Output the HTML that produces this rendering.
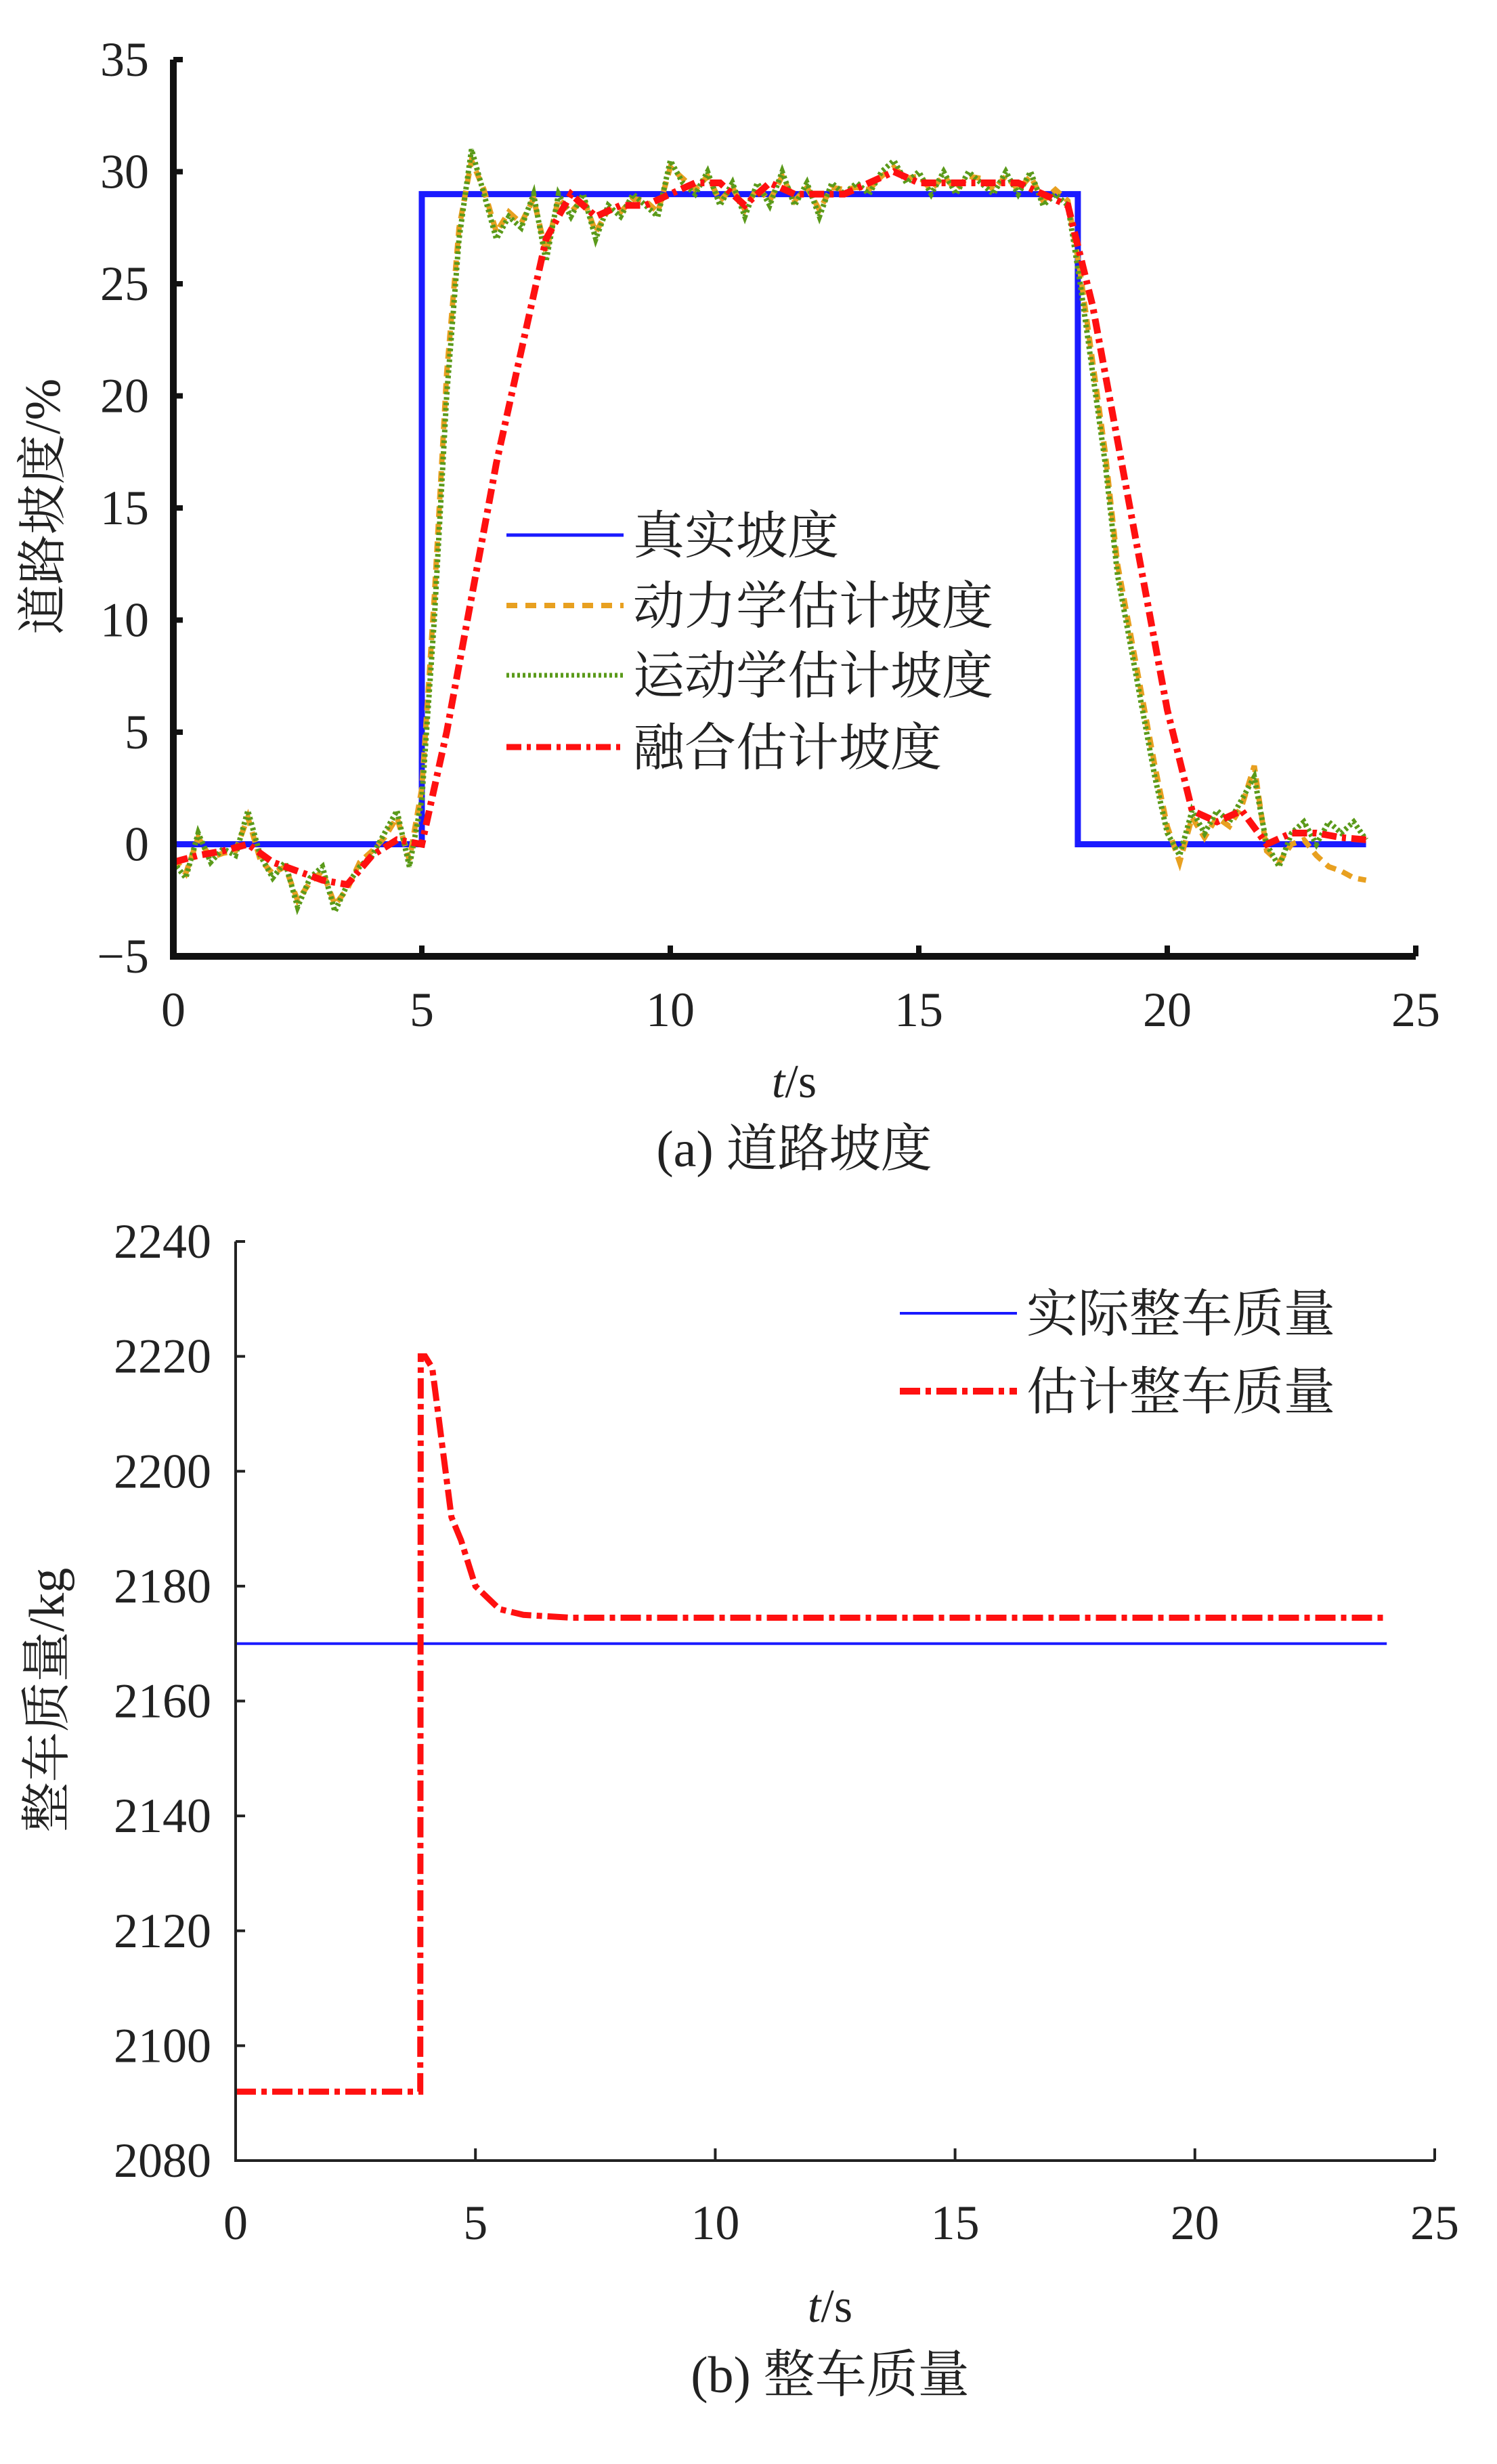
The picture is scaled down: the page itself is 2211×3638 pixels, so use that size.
<!DOCTYPE html>
<html><head><meta charset="utf-8"><style>
html,body{margin:0;padding:0;background:#fff}
svg{display:block}
svg text{font-family:"Liberation Serif","Noto Serif CJK SC",serif;fill:#222}
</style></head><body>
<svg id="svg" width="2211" height="3638" viewBox="0 0 2211 3638" xmlns="http://www.w3.org/2000/svg" font-family="'Liberation Serif','Noto Serif CJK SC',serif">
<g id="ga"></g>
<g id="gb"></g>
</svg>
<script>
// ---------- Chart (a) data ----------
const aXTicks = [0,5,10,15,20,25];
const aYTicks = [-5,0,5,10,15,20,25,30,35];
const aTrueT = [0,5,5,18.2,18.2,24];
const aTrueV = [0,0,29,29,0,0];
const aStep = 0.25;
const aKinematic = [-0.8,-1.5,0.5,-0.8,-0.2,-0.5,1.5,-0.5,-1.5,-0.8,-2.8,-1.5,-1,-3,-1.8,-1,-0.5,0.5,1.5,-1,2,10,20,27,31,29,27,28,27.5,29,26,29,28,29,27,28.5,28,29,28.5,28,30.5,29.5,29,30,28.5,29.5,28,29.5,28.5,30,28.5,29.5,28,29.5,29,29.5,29,30,30.5,29.5,30,29,30,29,30,29.5,29,30,29,30,28.5,29,28.5,25,21,17,12,9,6,3,0.5,-0.5,1.5,0.5,1.5,1,2,3,0,-1,0.5,1,0,1,0.5,1,0.2];
const aDynamic = [-0.6,-1.3,0.3,-0.6,-0.4,-0.3,1.2,-0.7,-1.3,-1,-2.5,-1.7,-1.2,-2.7,-2,-0.8,-0.3,0.3,1.2,-0.7,2.5,11,21,27.5,30.5,29.2,27.3,28.2,27.7,28.8,26.4,28.8,28.2,28.8,27.3,28.3,28.2,28.8,28.7,28.2,30.2,29.7,29.2,29.8,28.7,29.3,28.3,29.3,28.7,29.8,28.7,29.3,28.3,29.3,29.2,29.3,29.2,29.8,30.2,29.7,29.8,29.2,29.8,29.2,29.8,29.7,29.2,29.8,29.2,29.8,28.7,29.2,28.7,25.5,21.5,17.5,12.5,9.5,6.5,3.5,0.8,-0.8,1.2,0.3,1.2,0.8,1.7,3.5,-0.3,-0.8,0,0.2,-0.5,-1,-1.2,-1.5,-1.6];
const aFusedStep = 0.5;
const aFused = [-0.8,-0.5,-0.3,0,-0.8,-1.2,-1.6,-1.8,-0.5,0.2,0,5,11,17,22,27,29,28,28.5,28.5,29,29.5,29.5,28.5,29.5,29,29,29,29.5,30,29.5,29.5,29.5,29.5,29.5,29,28.5,24,18,12,6,1.5,1,1.5,0,0.5,0.5,0.3,0.2];
// ---------- Chart (b) data ----------
const bXTicks = [0,5,10,15,20,25];
const bYTicks = [2080,2100,2120,2140,2160,2180,2200,2220,2240];
const bActualT = [0,24];
const bActualV = [2170,2170];
const bEstT = [0,3.85,3.86,3.95,4.1,4.3,4.5,4.7,5,5.5,6,7,8,24];
const bEstV = [2092,2092,2220,2220,2218,2205,2192,2188,2180,2176,2175,2174.5,2174.5,2174.5];

const NS="http://www.w3.org/2000/svg";
const FF="'Liberation Serif','Noto Serif CJK SC',serif";
function mk(parent,tag,attrs,txt){const e=document.createElementNS(NS,tag);for(const k in attrs)e.setAttribute(k,attrs[k]);if(tag==='text')e.setAttribute('font-family',FF);if(txt!==undefined)e.textContent=txt;parent.appendChild(e);return e;}

// ---- Chart a ----
const ga=document.getElementById('ga');
const axA={x0:256,x1:2091,y0:1412,y1:88,vmin:-5,vmax:35,tmax:25};
const axs=t=>axA.x0+(axA.x1-axA.x0)*t/axA.tmax;
const ays=v=>axA.y0-(axA.y0-axA.y1)*(v-axA.vmin)/(axA.vmax-axA.vmin);
let e;
aYTicks.forEach(v=>{
 e=mk(ga,'text',{x:220,y:ays(v)+24,'text-anchor':'end','font-size':72},v<0?'\u2212'+(-v):String(v));
 
 
 e=mk(ga,'line',{x1:axA.x0,x2:axA.x0+14,y1:ays(v),y2:ays(v),stroke:'#111','stroke-width':8});
 
 
});
aXTicks.forEach(t=>{
 e=mk(ga,'text',{x:axs(t),y:1515,'text-anchor':'middle','font-size':72},String(t));
 
 
 e=mk(ga,'line',{x1:axs(t),x2:axs(t),y1:axA.y0,y2:axA.y0-16,stroke:'#111','stroke-width':8});
 
 
});
function pts(ts,vs,xs,ys){return ts.map((t,i)=>xs(t).toFixed(1)+','+ys(vs[i]).toFixed(1)).join(' ');}
const aT=aKinematic.map((_,i)=>i*aStep);
const aFT=aFused.map((_,i)=>i*aFusedStep);
e=mk(ga,'polyline',{points:pts(aTrueT,aTrueV,axs,ays),fill:'none',stroke:'#1a1aff','stroke-width':9});


e=mk(ga,'polyline',{points:pts(aT,aDynamic,axs,ays),fill:'none',stroke:'#e8a020','stroke-width':8,'stroke-dasharray':'16 10'});


e=mk(ga,'polyline',{points:pts(aT,aKinematic,axs,ays),fill:'none',stroke:'#5a9a1a','stroke-width':8,'stroke-dasharray':'4 4'});


e=mk(ga,'polyline',{points:pts(aFT,aFused,axs,ays),fill:'none',stroke:'#ff1010','stroke-width':10,'stroke-dasharray':'22 8 6 8'});


e=mk(ga,'polyline',{points:`${axA.x0},${axA.y1} ${axA.x0},${axA.y0} ${axA.x1},${axA.y0}`,fill:'none',stroke:'#111','stroke-width':10});


const legA=[['真实坡度','#1a1aff','none',5],['动力学估计坡度','#e8a020','16 12',8],['运动学估计坡度','#5a9a1a','4 4',7],['融合估计坡度','#ff1010','22 8 6 8',9]];
const legAY=[790,894,997,1103];
legA.forEach((l,i)=>{
 e=mk(ga,'line',{x1:748,x2:921,y1:legAY[i],y2:legAY[i],stroke:l[1],'stroke-width':l[3],'stroke-dasharray':l[2]});
 
 
 e=mk(ga,'text',{x:935,y:legAY[i]+27,'font-size':76},l[0]);
 
 
});
e=mk(ga,'text',{x:1173,y:1620,'text-anchor':'middle','font-size':70},'');
e.innerHTML='<tspan font-style="italic">t</tspan>/s';


e=mk(ga,'text',{x:1173,y:1722,'text-anchor':'middle','font-size':76},'(a) 道路坡度');


e=mk(ga,'text',{x:0,y:0,'text-anchor':'middle','font-size':74,transform:'translate(88,748) rotate(-90)'},'道路坡度/%');



// ---- Chart b ----
const gb=document.getElementById('gb');
const axB={x0:348,x1:2119,y0:3190,y1:1833,vmin:2080,vmax:2240,tmax:25};
const bxs=t=>axB.x0+(axB.x1-axB.x0)*t/axB.tmax;
const bys=v=>axB.y0-(axB.y0-axB.y1)*(v-axB.vmin)/(axB.vmax-axB.vmin);
bYTicks.forEach(v=>{
 e=mk(gb,'text',{x:312,y:bys(v)+24,'text-anchor':'end','font-size':72},String(v));
 
 
 e=mk(gb,'line',{x1:axB.x0,x2:axB.x0+14,y1:bys(v),y2:bys(v),stroke:'#222','stroke-width':4});
 
 
});
bXTicks.forEach(t=>{
 e=mk(gb,'text',{x:bxs(t),y:3306,'text-anchor':'middle','font-size':72},String(t));
 
 
 e=mk(gb,'line',{x1:bxs(t),x2:bxs(t),y1:axB.y0,y2:axB.y0-18,stroke:'#222','stroke-width':4});
 
 
});
e=mk(gb,'polyline',{points:pts(bActualT,bActualV,bxs,bys),fill:'none',stroke:'#1a1aff','stroke-width':4});


e=mk(gb,'polyline',{points:pts(bEstT,bEstV,bxs,bys),fill:'none',stroke:'#ff1010','stroke-width':9,'stroke-dasharray':'30 8 8 8'});


e=mk(gb,'polyline',{points:`${axB.x0},${axB.y1} ${axB.x0},${axB.y0} ${axB.x1},${axB.y0}`,fill:'none',stroke:'#222','stroke-width':4});


const legB=[['实际整车质量','#1a1aff','none',4],['估计整车质量','#ff1010','30 8 8 8',10]];
const legBY=[1939,2054];
legB.forEach((l,i)=>{
 e=mk(gb,'line',{x1:1329,x2:1502,y1:legBY[i],y2:legBY[i],stroke:l[1],'stroke-width':l[3],'stroke-dasharray':l[2]});
 
 
 e=mk(gb,'text',{x:1516,y:legBY[i]+27,'font-size':76},l[0]);
 
 
});
e=mk(gb,'text',{x:1226,y:3428,'text-anchor':'middle','font-size':70},'');
e.innerHTML='<tspan font-style="italic">t</tspan>/s';


e=mk(gb,'text',{x:1226,y:3532,'text-anchor':'middle','font-size':76},'(b) 整车质量');


e=mk(gb,'text',{x:0,y:0,'text-anchor':'middle','font-size':74,transform:'translate(94,2510) rotate(-90)'},'整车质量/kg');


</script>
</body></html>
